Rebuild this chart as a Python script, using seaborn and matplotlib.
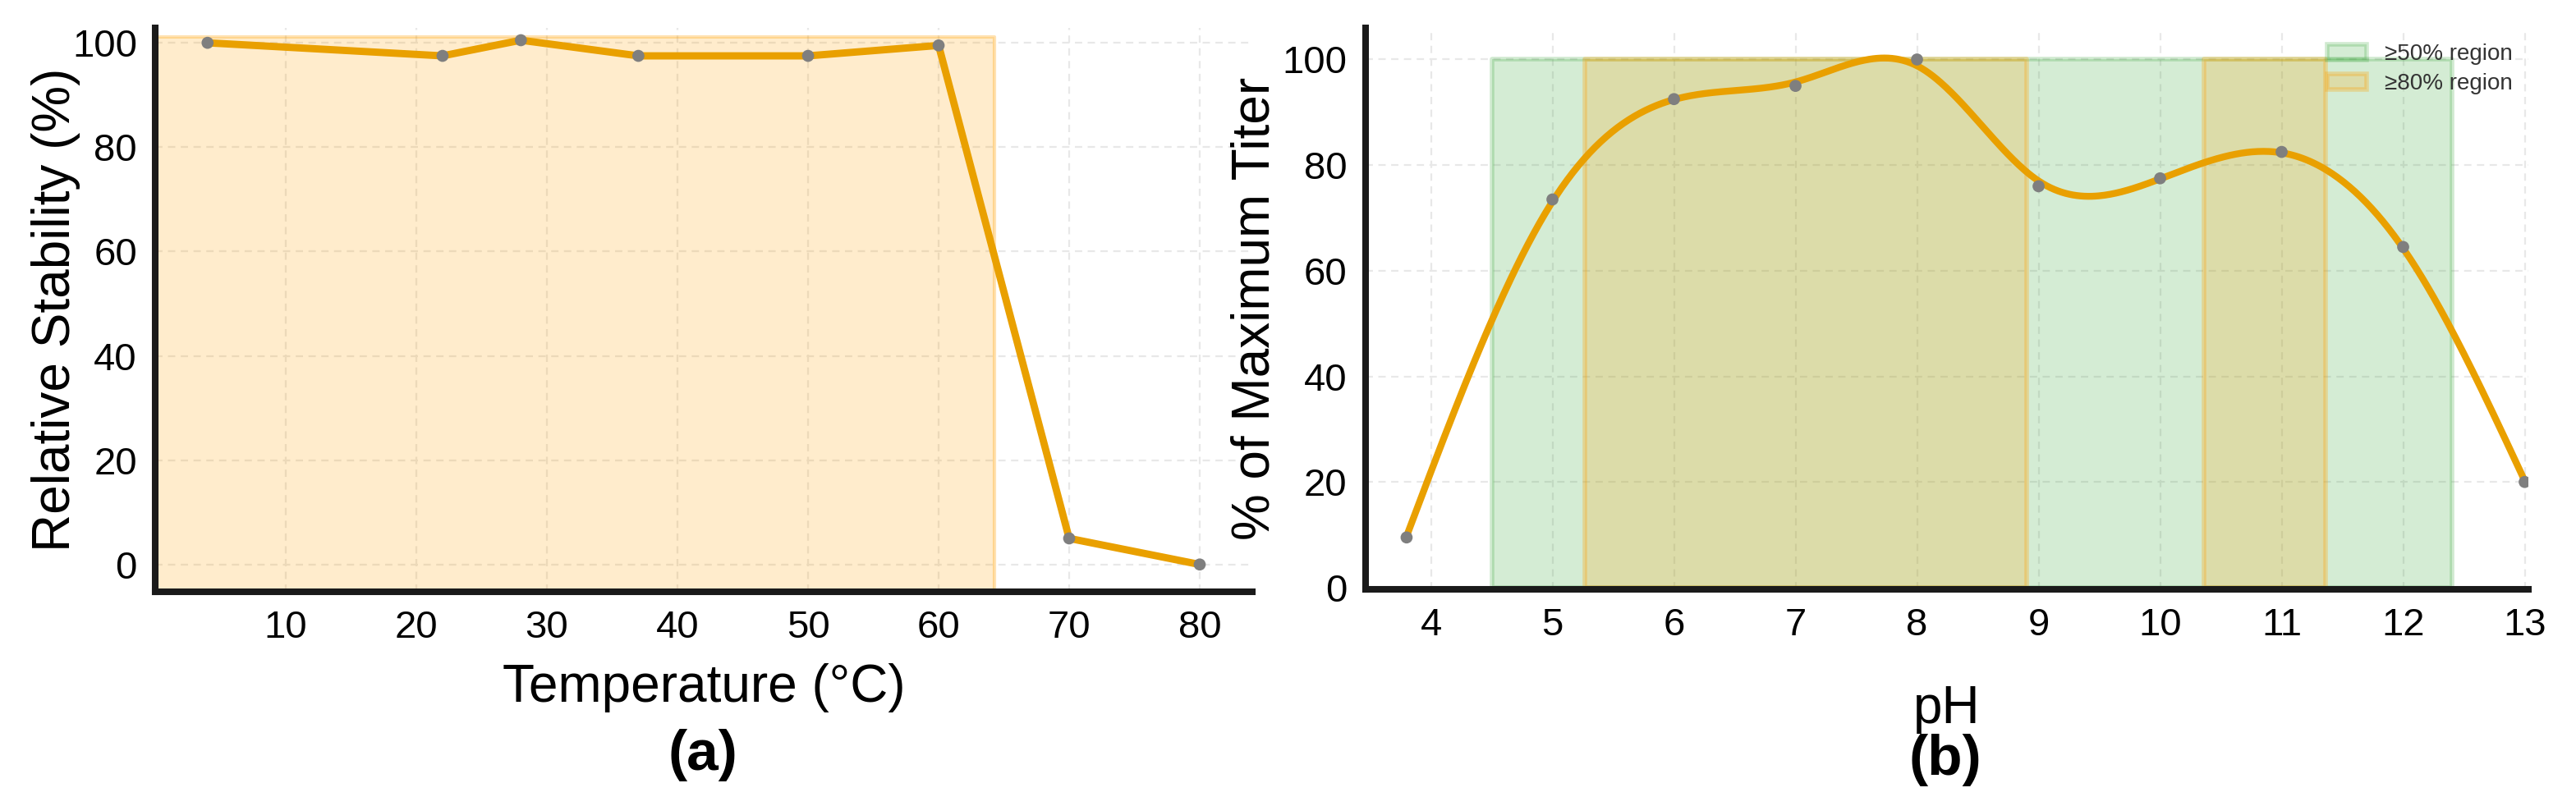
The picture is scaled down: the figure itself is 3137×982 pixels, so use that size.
import matplotlib
matplotlib.use("Agg")
import matplotlib.pyplot as plt
import numpy as np
import pandas as pd
import seaborn as sns

# panel (a): thermal stability
temp_c = [4, 22, 28, 37, 50, 60, 70, 80]
stability = [100, 97.5, 100.5, 97.5, 97.5, 99.5, 5, 0]
stable_zone = (0, 64.3)        # shaded temperature range
stable_top = 101.1

# panel (b): pH stability
ph = [3.8, 5, 6, 7, 8, 9, 10, 11, 12, 13]
titer = [9.5, 73.5, 92.5, 95, 100, 76, 77.5, 82.5, 64.5, 20]
region50 = [(4.5, 12.4)]
region80 = [(5.27, 8.9), (10.36, 11.36)]

LINE = "#E9A000"
ORANGE = (1.0, 0.627, 0.0)
GREEN = matplotlib.colors.to_rgb("#2ca02c")
DOT = "#7f7f7f"


def natural_spline(x, y, xs):
    x = np.asarray(x, float)
    y = np.asarray(y, float)
    n = len(x)
    h = np.diff(x)
    A = np.zeros((n, n))
    r = np.zeros(n)
    A[0, 0] = 1
    A[-1, -1] = 1
    for i in range(1, n - 1):
        A[i, i - 1] = h[i - 1]
        A[i, i] = 2 * (h[i - 1] + h[i])
        A[i, i + 1] = h[i]
        r[i] = 6 * ((y[i + 1] - y[i]) / h[i] - (y[i] - y[i - 1]) / h[i - 1])
    M = np.linalg.solve(A, r)
    idx = np.clip(np.searchsorted(x, xs) - 1, 0, n - 2)
    x0, x1 = x[idx], x[idx + 1]
    hh = x1 - x0
    a = (x1 - xs) / hh
    b = (xs - x0) / hh
    return (a * y[idx] + b * y[idx + 1]
            + ((a ** 3 - a) * M[idx] + (b ** 3 - b) * M[idx + 1]) * hh ** 2 / 6)


def smoothing_spline(x, y, xs, lam):
    # Reinsch smoothing spline: shrink knot values, then natural spline through them
    x = np.asarray(x, float)
    y = np.asarray(y, float)
    n = len(x)
    h = np.diff(x)
    Q = np.zeros((n, n - 2))
    R = np.zeros((n - 2, n - 2))
    for j in range(1, n - 1):
        Q[j - 1, j - 1] = 1 / h[j - 1]
        Q[j, j - 1] = -1 / h[j - 1] - 1 / h[j]
        Q[j + 1, j - 1] = 1 / h[j]
        R[j - 1, j - 1] = (h[j - 1] + h[j]) / 3
        if j < n - 2:
            R[j - 1, j] = R[j, j - 1] = h[j] / 6
    K = Q @ np.linalg.solve(R, Q.T)
    g = np.linalg.solve(np.eye(n) + lam * K, y)
    return natural_spline(x, g, xs)


sns.set_style("whitegrid")
plt.rcParams["font.family"] = ["Liberation Sans", "DejaVu Sans"]
plt.rcParams["grid.linestyle"] = (0, (4, 3))
plt.rcParams["grid.color"] = "#e8e8e8"
plt.rcParams["grid.linewidth"] = 0.8
for k in ["text.color", "axes.labelcolor", "xtick.color", "ytick.color"]:
    plt.rcParams[k] = "black"

fig = plt.figure(figsize=(15.685, 4.91), dpi=200)
axA = fig.add_axes([0.0603, 0.266, 0.4257, 0.699])
axB = fig.add_axes([0.530, 0.269, 0.4515, 0.6965])


def style_axes(ax):
    for s in ["top", "right"]:
        ax.spines[s].set_visible(False)
    for s in ["left", "bottom"]:
        ax.spines[s].set_visible(True)
        ax.spines[s].set_linewidth(2.9)
        ax.spines[s].set_color("#1a1a1a")
    ax.tick_params(axis="both", direction="in", length=3, width=1.5,
                   color="#1a1a1a", labelsize=17, pad=8)
    ax.set_axisbelow(True)


# ---- (a) ----
dfA = pd.DataFrame({"temp": temp_c, "stab": stability})
axA.fill_between(list(stable_zone), -5.2, stable_top,
                 facecolor=(*ORANGE, 0.2), edgecolor=(*ORANGE, 0.3),
                 lw=1.5, zorder=1)
sns.lineplot(data=dfA, x="temp", y="stab", ax=axA, color=LINE, lw=3.2, zorder=3)
sns.scatterplot(data=dfA, x="temp", y="stab", ax=axA, color=DOT, s=28,
                edgecolor="none", zorder=4)
axA.set_xlim(0, 84)
axA.set_ylim(-5.2, 102.8)
axA.set_xticks(range(10, 81, 10))
axA.set_yticks(range(0, 101, 20))
style_axes(axA)
axA.set_xlabel("Temperature (°C)", fontsize=23, va="center")
axA.set_ylabel("Relative Stability (%)", fontsize=23, va="center")
axA.xaxis.set_label_coords(0.5, -0.171)
axA.yaxis.set_label_coords(-0.0906, 0.5)

# ---- (b) ----
xs = np.linspace(min(ph), max(ph), 600)
curve = pd.DataFrame({"ph": xs, "titer": smoothing_spline(ph, titer, xs, 0.007)})
dfB = pd.DataFrame({"ph": ph, "titer": titer})

for i, (a, b) in enumerate(region50):
    axB.fill_between([a, b], 0, 100, facecolor=(*GREEN, 0.2),
                     edgecolor=(*GREEN, 0.22), lw=2,
                     label="≥50% region" if i == 0 else None, zorder=1)
for i, (a, b) in enumerate(region80):
    axB.fill_between([a, b], 0, 100, facecolor=(*ORANGE, 0.2),
                     edgecolor=(*ORANGE, 0.3), lw=2,
                     label="≥80% region" if i == 0 else None, zorder=1)
sns.lineplot(data=curve, x="ph", y="titer", ax=axB, color=LINE, lw=3.0, zorder=3)
sns.scatterplot(data=dfB, x="ph", y="titer", ax=axB, color=DOT, s=28,
                edgecolor="none", zorder=4)
axB.set_xlim(3.46, 13.03)
axB.set_ylim(-0.3, 106)
axB.set_xticks(range(4, 14))
axB.set_yticks(range(0, 101, 20))
style_axes(axB)
axB.set_xlabel("pH", fontsize=23, va="center")
axB.set_ylabel("% of Maximum Titer", fontsize=23, va="center")
axB.xaxis.set_label_coords(0.5, -0.2135)
axB.yaxis.set_label_coords(-0.0946, 0.5)
axB.legend(loc="upper right", frameon=False, fontsize=10,
           borderaxespad=0.3, handlelength=1.7, labelspacing=0.35,
           labelcolor="#333333")

fig.text(0.273, 0.063, "(a)", fontsize=25, fontweight="bold", ha="center", va="center")
fig.text(0.755, 0.057, "(b)", fontsize=25, fontweight="bold", ha="center", va="center")

fig.savefig("out.png", dpi=200)
